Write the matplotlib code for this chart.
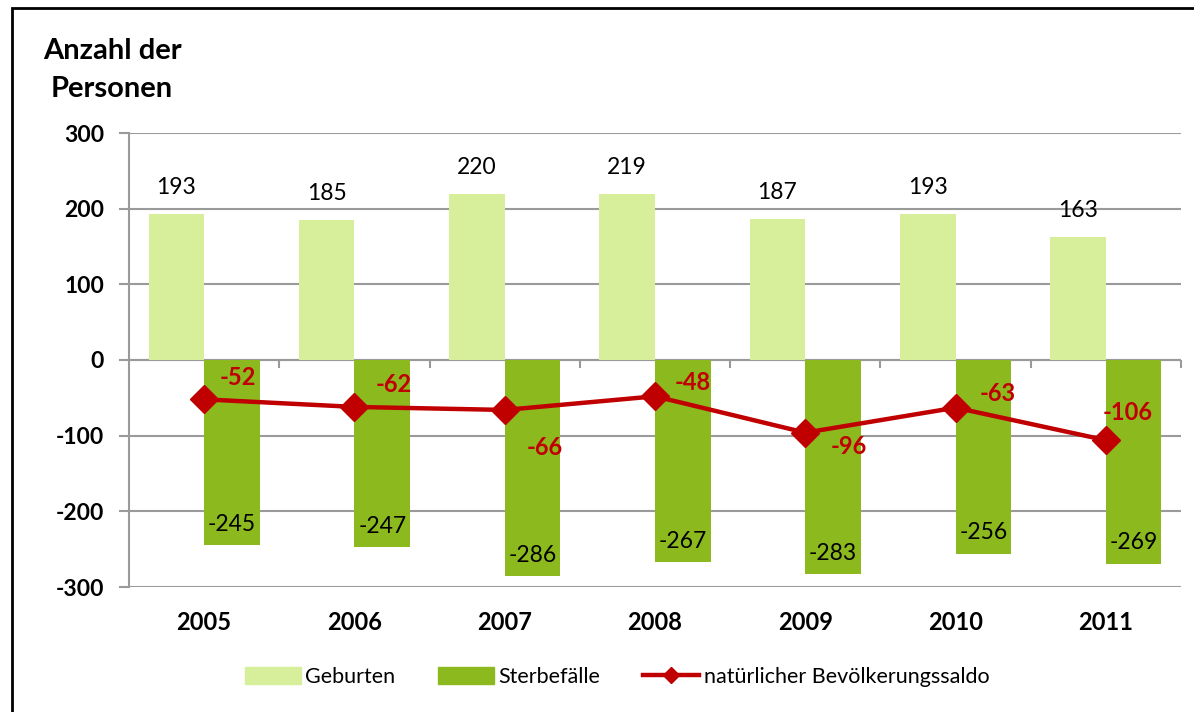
import matplotlib.pyplot as plt
import numpy as np
from matplotlib.patches import Rectangle, Patch
from matplotlib.lines import Line2D

plt.rcParams['font.family'] = ['Lato', 'DejaVu Sans']

years = ['2005', '2006', '2007', '2008', '2009', '2010', '2011']
geburten = [193, 185, 220, 219, 187, 193, 163]
sterbefaelle = [-245, -247, -286, -267, -283, -256, -269]
saldo = [-52, -62, -66, -48, -96, -63, -106]

# label offsets for the saldo values (points), placed by hand like in the original
saldo_offsets = [(24, 16), (28, 16), (29, -27), (27, 10), (31, -10), (30, 10), (16, 20)]

light_green = '#D7EE9B'
dark_green = '#8CB91E'
red = '#C00000'
grid_col = '#9A9A9A'

fig = plt.figure(figsize=(11.94, 7.12), dpi=100)
ax = fig.add_axes([129 / 1194, 1 - 587 / 712, 1052 / 1194, 454 / 712])

x = np.arange(len(years))
w = 0.37
ax.bar(x - w / 2, geburten, w, color=light_green, zorder=2)
ax.bar(x + w / 2, sterbefaelle, w, color=dark_green, zorder=2)
ax.plot(x, saldo, color=red, lw=3.2, marker='D', markersize=14, zorder=4)

for i in range(len(years)):
    ax.annotate(str(geburten[i]), (x[i] - w / 2, geburten[i]), xytext=(0, 19),
                textcoords='offset points', ha='center', va='center', fontsize=16.5)
    ax.annotate(str(sterbefaelle[i]), (x[i] + w / 2, sterbefaelle[i]), xytext=(0, 15),
                textcoords='offset points', ha='center', va='center', fontsize=16.5)
    ax.annotate(str(saldo[i]), (x[i], saldo[i]), xytext=saldo_offsets[i],
                textcoords='offset points', ha='center', va='center', fontsize=17,
                fontweight='bold', color=red, zorder=5)

ax.set_xlim(-0.5, len(years) - 0.5)
ax.set_ylim(-300, 300)
ax.set_yticks([-300, -200, -100, 0, 100, 200, 300])
ax.set_yticklabels(['-300', '-200', '-100', '0', '100', '200', '300'],
                   fontsize=16.5, fontweight='bold')
ax.yaxis.grid(True, color=grid_col, lw=1.5, zorder=0)
ax.tick_params(axis='y', length=7, width=1.5, color=grid_col, pad=11)

ax.set_xticks(x)
ax.set_xticklabels(years, fontsize=17, fontweight='bold')
ax.tick_params(axis='x', length=0, pad=17)

for s in ['top', 'right', 'bottom']:
    ax.spines[s].set_visible(False)
ax.spines['left'].set_color(grid_col)
ax.spines['left'].set_linewidth(1.5)

# zero line with small category separators
ax.axhline(0, color=grid_col, lw=1.5, zorder=1)
ax.vlines(x[:-1] + 0.5, -10, 0, color=grid_col, lw=1.5, zorder=1)
ax.vlines([len(years) - 0.5], -10, 0, color=grid_col, lw=1.5, zorder=1, clip_on=False)

fig.text(112 / 1194, 1 - 70 / 712, 'Anzahl der\nPersonen', ha='center', va='center',
         fontsize=21, fontweight='bold', multialignment='center', linespacing=1.55)

handles = [Patch(color=light_green, label='Geburten'),
           Patch(color=dark_green, label='Sterbefälle'),
           Line2D([], [], color=red, lw=3.2, marker='D', markersize=8,
                  label='natürlicher Bevölkerungssaldo')]
fig.legend(handles=handles, loc='center', bbox_to_anchor=(617 / 1194, 1 - 677 / 712),
           ncol=3, frameon=False, fontsize=15.5, handlelength=2.6, handleheight=0.8,
           columnspacing=2.0, handletextpad=0.2)

fig.patches.append(Rectangle((12 / 1194, -0.1), 1.2, 1 - 8 / 712 + 0.1,
                             transform=fig.transFigure, fill=False, ec='black', lw=2))

fig.savefig('out.png', dpi=100)
